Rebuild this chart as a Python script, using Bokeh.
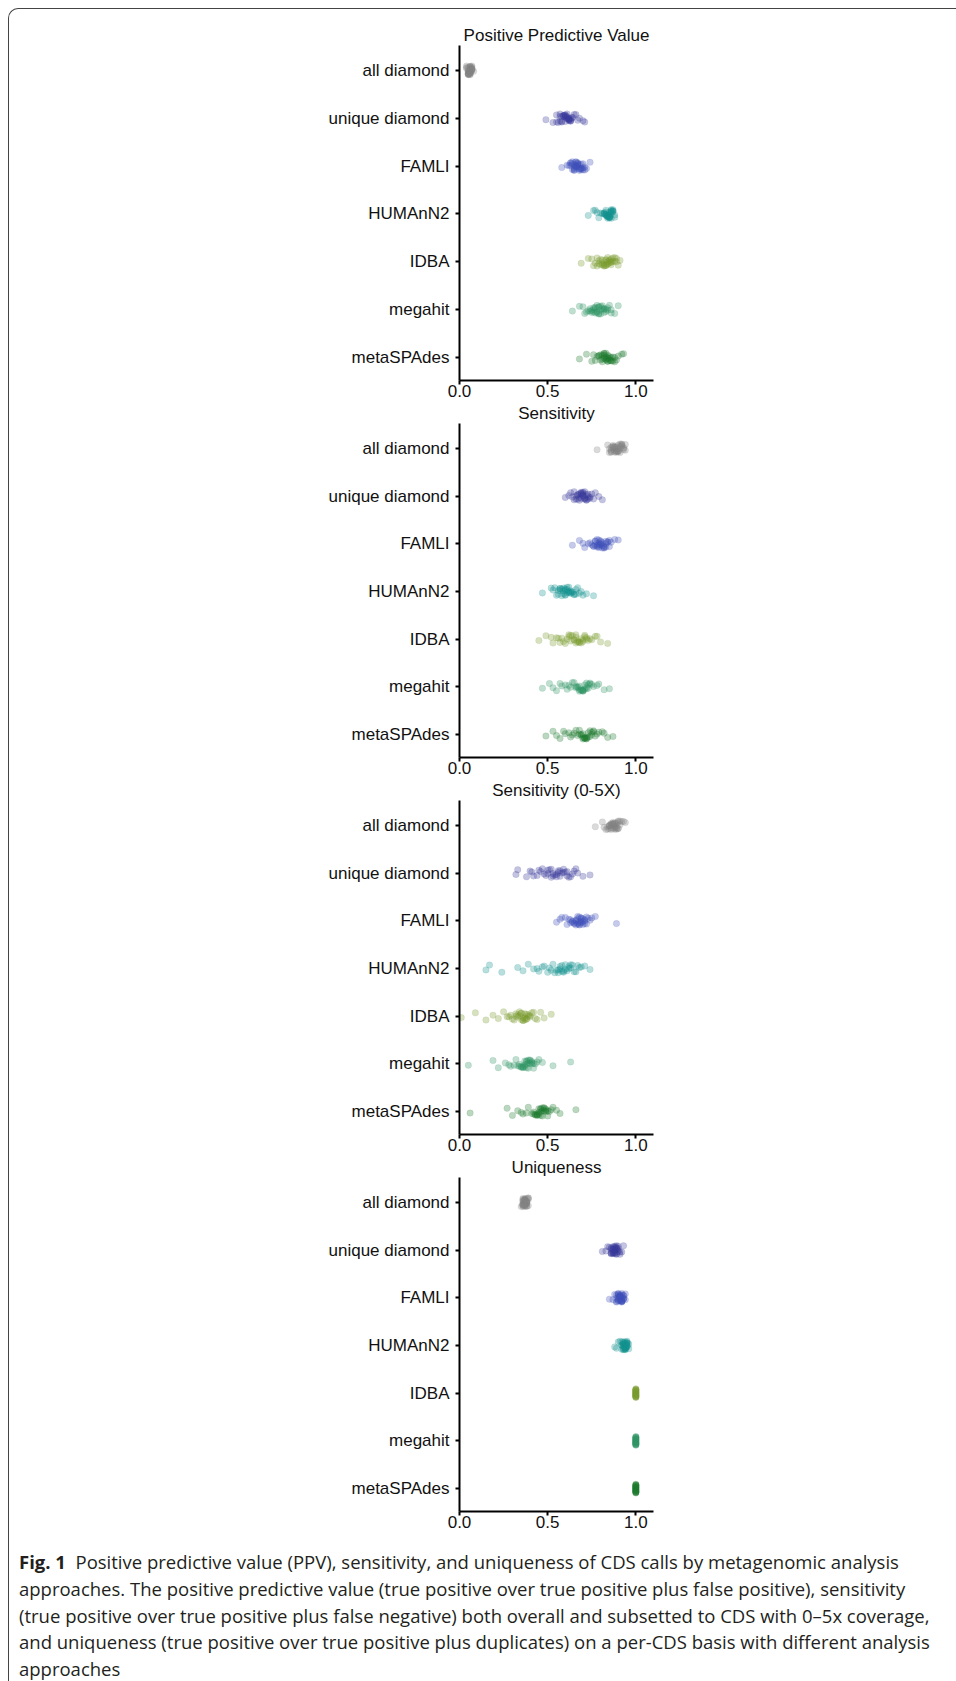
from bokeh.plotting import figure
from bokeh.models import Range1d, FixedTicker, ColumnDataSource, Div, Column
from bokeh.embed import file_html
from bokeh.resources import INLINE

categories = ["all diamond", "unique diamond", "FAMLI", "HUMAnN2", "IDBA", "megahit", "metaSPAdes"]
colors = ["#838383", "#3b3b9a", "#3f50b8", "#15918f", "#7a9a2e", "#2f9464", "#1f7a2e"]
panel_titles = ["Positive Predictive Value", "Sensitivity", "Sensitivity (0-5X)", "Uniqueness"]
x_ticks = [0.0, 0.5, 1.0]
x_tick_labels = ["0.0", "0.5", "1.0"]

# ---------- Positive Predictive Value ----------
ppv_all_diamond = [0.05,0.06,0.05,0.07,0.06,0.04,0.06,0.05,0.07,0.06,0.05,0.06,0.08,0.06,0.05,0.07,0.06,0.04,0.06,0.05,
                   0.07,0.06,0.05,0.06,0.07,0.05,0.06,0.06,0.05,0.07,0.06,0.05,0.06,0.07,0.06,0.05,0.06,0.04,0.07,0.06]
ppv_unique_diamond = [0.49,0.55,0.58,0.60,0.62,0.57,0.61,0.63,0.59,0.64,0.56,0.60,0.62,0.66,0.58,0.61,0.63,0.59,0.68,0.55,
                      0.60,0.62,0.64,0.57,0.61,0.70,0.59,0.63,0.60,0.58,0.65,0.62,0.53,0.61,0.67,0.60,0.63,0.57,0.62,0.71]
ppv_famli = [0.58,0.63,0.65,0.67,0.69,0.64,0.66,0.68,0.70,0.62,0.65,0.67,0.71,0.66,0.64,0.68,0.69,0.63,0.66,0.70,
             0.67,0.65,0.61,0.68,0.66,0.72,0.64,0.67,0.69,0.65,0.74,0.66,0.68,0.63,0.70,0.67,0.65,0.69,0.66,0.71]
ppv_humann2 = [0.73,0.76,0.79,0.82,0.84,0.86,0.83,0.85,0.87,0.81,0.84,0.86,0.88,0.83,0.85,0.78,0.84,0.87,0.82,0.85,
               0.86,0.83,0.80,0.85,0.87,0.84,0.86,0.83,0.88,0.85,0.77,0.84,0.86,0.82,0.85,0.87,0.84,0.83,0.86,0.85]
ppv_idba = [0.69,0.73,0.76,0.79,0.82,0.84,0.86,0.80,0.83,0.88,0.78,0.85,0.81,0.87,0.90,0.83,0.79,0.86,0.84,0.82,
            0.89,0.77,0.85,0.81,0.88,0.84,0.80,0.86,0.83,0.91,0.78,0.85,0.82,0.87,0.84,0.75,0.86,0.81,0.89,0.83]
ppv_megahit = [0.64,0.68,0.71,0.74,0.76,0.78,0.80,0.75,0.77,0.82,0.79,0.84,0.73,0.81,0.86,0.77,0.83,0.79,0.76,0.88,
               0.80,0.74,0.82,0.78,0.85,0.72,0.79,0.84,0.77,0.81,0.90,0.75,0.80,0.83,0.78,0.70,0.82,0.76,0.86,0.79]
ppv_metaspades = [0.68,0.72,0.75,0.78,0.80,0.82,0.84,0.86,0.81,0.83,0.88,0.79,0.85,0.82,0.87,0.90,0.83,0.80,0.86,0.84,
                  0.92,0.81,0.85,0.77,0.83,0.89,0.84,0.82,0.86,0.79,0.93,0.84,0.81,0.87,0.83,0.76,0.85,0.82,0.88,0.84]

# ---------- Sensitivity ----------
sens_all_diamond = [0.78,0.84,0.86,0.88,0.90,0.92,0.87,0.89,0.91,0.93,0.85,0.88,0.90,0.92,0.86,0.89,0.94,0.87,0.91,0.88,
                    0.90,0.93,0.86,0.89,0.91,0.88,0.92,0.85,0.90,0.87,0.94,0.89,0.91,0.88,0.86,0.92,0.90,0.87,0.93,0.89]
sens_unique_diamond = [0.60,0.63,0.65,0.67,0.69,0.71,0.73,0.66,0.68,0.70,0.72,0.75,0.64,0.69,0.71,0.67,0.74,0.70,0.66,0.72,
                       0.77,0.68,0.70,0.73,0.65,0.71,0.69,0.79,0.67,0.72,0.70,0.74,0.68,0.62,0.71,0.69,0.76,0.73,0.70,0.81]
sens_famli = [0.64,0.68,0.71,0.74,0.76,0.78,0.80,0.82,0.77,0.79,0.81,0.84,0.75,0.79,0.83,0.86,0.78,0.80,0.73,0.82,
              0.85,0.77,0.81,0.79,0.88,0.76,0.83,0.80,0.78,0.84,0.90,0.79,0.82,0.70,0.81,0.77,0.85,0.80,0.83,0.79]
sens_humann2 = [0.47,0.52,0.55,0.57,0.59,0.62,0.64,0.56,0.60,0.63,0.58,0.66,0.61,0.54,0.65,0.60,0.68,0.57,0.62,0.70,
                0.59,0.63,0.56,0.66,0.61,0.72,0.58,0.64,0.60,0.53,0.67,0.62,0.76,0.59,0.63,0.57,0.65,0.61,0.69,0.60]
sens_idba = [0.45,0.49,0.53,0.56,0.59,0.62,0.65,0.68,0.71,0.74,0.60,0.66,0.70,0.63,0.57,0.72,0.67,0.77,0.61,0.69,
             0.64,0.73,0.58,0.80,0.66,0.70,0.62,0.75,0.68,0.55,0.71,0.65,0.84,0.69,0.63,0.78,0.67,0.52,0.72,0.66]
sens_megahit = [0.47,0.51,0.55,0.58,0.61,0.64,0.67,0.70,0.73,0.76,0.68,0.71,0.66,0.74,0.69,0.62,0.72,0.79,0.67,0.70,
                0.57,0.73,0.68,0.82,0.65,0.71,0.75,0.63,0.69,0.78,0.72,0.53,0.70,0.66,0.85,0.74,0.68,0.60,0.72,0.70]
sens_metaspades = [0.49,0.53,0.57,0.60,0.63,0.66,0.69,0.72,0.75,0.78,0.70,0.73,0.67,0.76,0.71,0.65,0.74,0.81,0.69,0.72,
                   0.59,0.77,0.70,0.84,0.68,0.73,0.79,0.64,0.71,0.82,0.74,0.55,0.72,0.68,0.87,0.76,0.70,0.62,0.75,0.71]

# ---------- Sensitivity (0-5X) ----------
low_all_diamond = [0.77,0.81,0.84,0.86,0.88,0.90,0.85,0.87,0.89,0.91,0.83,0.86,0.88,0.92,0.85,0.87,0.89,0.94,0.86,0.88,
                   0.90,0.84,0.87,0.89,0.91,0.86,0.88,0.85,0.90,0.87,0.93,0.88,0.86,0.89,0.82,0.87,0.90,0.88,0.85,0.89]
low_unique_diamond = [0.32,0.33,0.38,0.41,0.44,0.47,0.50,0.53,0.56,0.59,0.62,0.65,0.48,0.52,0.57,0.61,0.54,0.45,0.58,0.63,
                      0.51,0.55,0.60,0.42,0.66,0.49,0.57,0.53,0.70,0.46,0.59,0.64,0.52,0.56,0.74,0.50,0.61,0.40,0.67,0.55]
low_famli = [0.55,0.58,0.61,0.63,0.65,0.67,0.69,0.71,0.73,0.66,0.68,0.70,0.64,0.72,0.67,0.62,0.69,0.75,0.66,0.70,
             0.60,0.68,0.71,0.65,0.77,0.67,0.69,0.64,0.72,0.57,0.68,0.70,0.66,0.74,0.63,0.69,0.89,0.67,0.71,0.68]
low_humann2 = [0.15,0.17,0.24,0.33,0.36,0.39,0.42,0.45,0.48,0.51,0.54,0.57,0.60,0.63,0.66,0.69,0.55,0.58,0.62,0.50,
               0.64,0.56,0.68,0.59,0.53,0.61,0.71,0.57,0.65,0.47,0.60,0.74,0.56,0.63,0.52,0.67,0.58,0.62,0.44,0.59]
low_idba = [0.01,0.09,0.15,0.19,0.22,0.25,0.28,0.30,0.32,0.34,0.36,0.38,0.40,0.42,0.44,0.33,0.37,0.35,0.39,0.31,
            0.41,0.36,0.29,0.38,0.34,0.43,0.37,0.27,0.35,0.39,0.46,0.33,0.36,0.40,0.48,0.35,0.38,0.52,0.32,0.37]
low_megahit = [0.05,0.19,0.22,0.26,0.29,0.32,0.34,0.36,0.38,0.40,0.42,0.44,0.37,0.39,0.35,0.41,0.33,0.38,0.43,0.36,
               0.40,0.31,0.39,0.37,0.45,0.34,0.41,0.38,0.36,0.47,0.40,0.28,0.39,0.42,0.53,0.37,0.35,0.63,0.41,0.38]
low_metaspades = [0.06,0.27,0.30,0.33,0.36,0.39,0.42,0.44,0.46,0.48,0.50,0.52,0.45,0.47,0.43,0.49,0.41,0.46,0.51,0.44,
                  0.48,0.38,0.47,0.45,0.53,0.42,0.49,0.46,0.44,0.55,0.48,0.35,0.47,0.50,0.57,0.45,0.43,0.66,0.49,0.46]

# ---------- Uniqueness ----------
uniq_all_diamond = [0.36,0.37,0.38,0.36,0.37,0.39,0.38,0.36,0.37,0.38,0.35,0.37,0.38,0.36,0.39,0.37,0.38,0.36,0.37,0.38,
                    0.37,0.36,0.38,0.37,0.39,0.36,0.37,0.38,0.37,0.36,0.38,0.37,0.36,0.38,0.37,0.39,0.36,0.37,0.38,0.37]
uniq_unique_diamond = [0.81,0.84,0.86,0.87,0.88,0.89,0.90,0.87,0.88,0.89,0.91,0.86,0.88,0.90,0.87,0.89,0.92,0.85,0.88,0.89,
                       0.87,0.90,0.86,0.88,0.93,0.87,0.89,0.88,0.86,0.90,0.88,0.83,0.89,0.87,0.91,0.88,0.86,0.89,0.87,0.88]
uniq_famli = [0.85,0.88,0.89,0.90,0.91,0.92,0.93,0.90,0.91,0.92,0.89,0.91,0.93,0.90,0.92,0.91,0.94,0.89,0.91,0.92,
              0.90,0.93,0.91,0.92,0.90,0.91,0.93,0.89,0.92,0.91,0.94,0.90,0.92,0.91,0.87,0.92,0.90,0.93,0.91,0.92]
uniq_humann2 = [0.88,0.90,0.92,0.93,0.94,0.95,0.93,0.94,0.95,0.92,0.94,0.93,0.95,0.94,0.96,0.93,0.94,0.95,0.92,0.94,
                0.93,0.95,0.94,0.93,0.91,0.94,0.95,0.93,0.94,0.96,0.92,0.94,0.93,0.95,0.94,0.93,0.89,0.94,0.95,0.93]
uniq_idba = [1.0,1.0,1.0,1.0,1.0,1.0,1.0,1.0,1.0,1.0,1.0,1.0,1.0,1.0,1.0,1.0,1.0,1.0,1.0,1.0,1.0,1.0,1.0,1.0]
uniq_megahit = [1.0,1.0,1.0,1.0,1.0,1.0,1.0,1.0,1.0,1.0,1.0,1.0,1.0,1.0,1.0,1.0,1.0,1.0,1.0,1.0,1.0,1.0,1.0,1.0]
uniq_metaspades = [1.0,1.0,1.0,1.0,1.0,1.0,1.0,1.0,1.0,1.0,1.0,1.0,1.0,1.0,1.0,1.0,1.0,1.0,1.0,1.0,1.0,1.0,1.0,1.0]

panels = [
    [ppv_all_diamond, ppv_unique_diamond, ppv_famli, ppv_humann2, ppv_idba, ppv_megahit, ppv_metaspades],
    [sens_all_diamond, sens_unique_diamond, sens_famli, sens_humann2, sens_idba, sens_megahit, sens_metaspades],
    [low_all_diamond, low_unique_diamond, low_famli, low_humann2, low_idba, low_megahit, low_metaspades],
    [uniq_all_diamond, uniq_unique_diamond, uniq_famli, uniq_humann2, uniq_idba, uniq_megahit, uniq_metaspades],
]

# strip-plot jitter (display offsets in category units, fixed, not data)
jitter_offsets = [0.03,-0.07,0.08,-0.02,0.05,-0.09,0.01,0.06,-0.05,-0.01,0.09,-0.04,0.02,-0.08,0.07,-0.03,0.04,-0.06,0.00,0.08,
                  -0.07,0.03,-0.02,0.06,-0.09,0.05,-0.05,0.01,0.07,-0.03,-0.08,0.02,0.09,-0.01,0.04,-0.06,0.06,-0.04,0.00,0.08]

FONT = "Liberation Sans"
FS = "17px"

# layout geometry: (min_border_top, min_border_bottom, margin_top)
geometry = [(36, 24, 0), (22, 24, -4), (22, 24, -4), (22, 26, -4)]
FRAME_H = 335

figs = []
for k, values_list in enumerate(panels):
    top, bottom, mtop = geometry[k]
    p = figure(width=660, height=top + FRAME_H + bottom,
               x_range=Range1d(0, 1.1), y_range=Range1d(6.48, -0.52),
               output_backend="svg", toolbar_location=None,
               min_border_left=450, min_border_right=16,
               min_border_top=top, min_border_bottom=bottom,
               margin=(mtop, 0, 0, 0))
    p.title.text = panel_titles[k]
    p.title.align = "center"
    p.title.text_font = FONT
    p.title.text_font_size = FS
    p.title.text_font_style = "normal"
    p.title.text_color = "#111111"
    p.title.standoff = 2
    p.outline_line_color = None
    p.xgrid.visible = False
    p.ygrid.visible = False
    p.background_fill_color = None
    p.border_fill_color = None

    xs, ys, cs = [], [], []
    for ci, vals in enumerate(values_list):
        for j, v in enumerate(vals):
            xs.append(v)
            ys.append(ci + jitter_offsets[j % len(jitter_offsets)])
            cs.append(colors[ci])
    src = ColumnDataSource(dict(x=xs, y=ys, c=cs))
    p.scatter("x", "y", source=src, size=6.5, fill_color="c", line_color="c",
              fill_alpha=0.3, line_alpha=0.16, line_width=0.7)

    p.xaxis.ticker = FixedTicker(ticks=x_ticks)
    p.xaxis.major_label_overrides = {t: l for t, l in zip(x_ticks, x_tick_labels)}
    p.yaxis.ticker = FixedTicker(ticks=list(range(len(categories))))
    p.yaxis.major_label_overrides = {i: c for i, c in enumerate(categories)}
    for ax in (p.xaxis[0], p.yaxis[0]):
        ax.axis_line_width = 2
        ax.axis_line_color = "black"
        ax.major_tick_line_width = 2
        ax.major_tick_line_color = "black"
        ax.major_tick_out = 4
        ax.major_tick_in = 0
        ax.minor_tick_line_color = None
        ax.major_label_text_font = FONT
        ax.major_label_text_font_size = FS
        ax.major_label_text_color = "#111111"
    p.xaxis.major_label_standoff = 0
    p.yaxis.major_label_standoff = 6
    figs.append(p)

caption_html = (
    "<b>Fig. 1</b>&nbsp; Positive predictive value (PPV), sensitivity, and uniqueness of CDS calls by metagenomic analysis<br>"
    "approaches. The positive predictive value (true positive over true positive plus false positive), sensitivity<br>"
    "(true positive over true positive plus false negative) both overall and subsetted to CDS with 0&ndash;5x coverage,<br>"
    "and uniqueness (true positive over true positive plus duplicates) on a per-CDS basis with different analysis<br>"
    "approaches"
)
caption = Div(text=caption_html, width=947, height=144,
              styles={"font-family": "Open Sans", "font-size": "18.5px", "line-height": "26.8px",
                      "color": "#231f20", "padding-left": "5px", "padding-top": "7px",
                      "white-space": "nowrap", "box-sizing": "border-box"})

layout = Column(children=figs + [caption], spacing=0, margin=(8, 0, 0, 8),
                styles={"border-top": "1px solid #444", "border-left": "1px solid #444",
                        "border-top-left-radius": "10px"})

open("out.html", "w").write(file_html(layout, INLINE))
